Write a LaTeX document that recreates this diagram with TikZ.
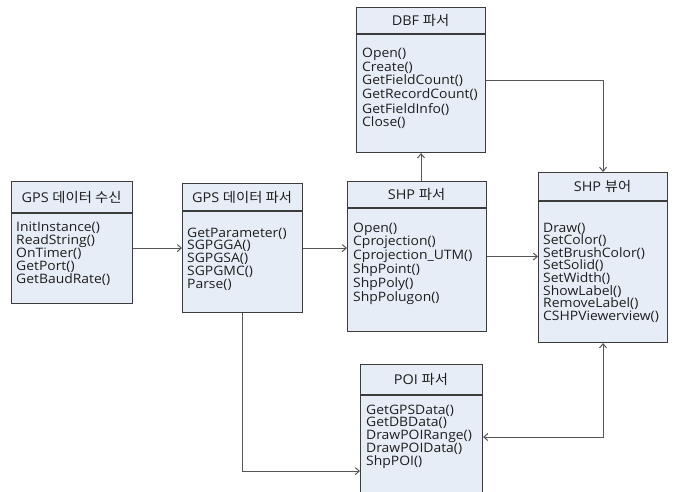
\documentclass[tikz,border=0pt]{standalone}
\usepackage{fontspec}
\setmainfont[FakeStretch=1.07]{Open Sans}
\newfontfamily\krfont[FakeStretch=1.06]{Noto Sans CJK KR}
\usetikzlibrary{arrows.meta}
\definecolor{boxfill}{RGB}{231,237,247}
\definecolor{boxline}{RGB}{60,60,60}
\definecolor{conn}{RGB}{85,85,85}
\definecolor{txtc}{RGB}{30,30,30}
\begin{document}
\begin{tikzpicture}[x=1pt,y=-1pt,
  box/.style={draw=boxline, fill=boxfill, line width=1.1pt, inner sep=0pt, anchor=north west},
  sep/.style={draw=boxline, line width=1.1pt},
  hdr/.style={font=\fontsize{13.5}{14}\selectfont, text=txtc, inner sep=0pt},
  body/.style={text=txtc, inner sep=0pt, anchor=base west, align=left},
  arr/.style={draw=conn, line width=1pt, -{Straight Barb[length=4pt,width=7pt]}},
  arrb/.style={draw=conn, line width=1pt, {Straight Barb[length=4pt,width=7pt]}-{Straight Barb[length=4pt,width=7pt]}},
]
\useasboundingbox (0,0) rectangle (677,492);
\clip (0,0) rectangle (677,492);

% GPS data receive
\node[box, minimum width=121pt, minimum height=122pt] (b1) at (11,181) {};
\draw[sep] (11,213) -- (132,213);
\node[hdr] (b1h) at (71.5,197) {GPS {\krfont 데이터 수신}};
\node[body, font=\fontsize{13}{13.2}\selectfont] (b1t) at (16,283.8) {InitInstance()\\ReadString()\\OnTimer()\\GetPort()\\GetBaudRate()};

% GPS data parser
\node[box, minimum width=120pt, minimum height=129pt] (b2) at (182,183) {};
\draw[sep] (182,211) -- (302,211);
\node[hdr] (b2h) at (242,197) {GPS {\krfont 데이터 파서}};
\node[body, font=\fontsize{13}{12.8}\selectfont] (b2t) at (187,288.2) {GetParameter()\\SGPGGA()\\SGPGSA()\\SGPGMC()\\Parse()};

% SHP parser
\node[box, minimum width=139pt, minimum height=150pt] (b3) at (347,181) {};
\draw[sep] (347,208) -- (486,208);
\node[hdr] (b3h) at (416.5,194.5) {SHP {\krfont 파서}};
\node[body, font=\fontsize{13}{13.8}\selectfont] (b3t) at (353,301) {Open()\\Cprojection()\\Cprojection\_UTM()\\ShpPoint()\\ShpPoly()\\ShpPolugon()};

% DBF parser
\node[box, minimum width=129pt, minimum height=145pt] (dbf) at (356,7) {};
\draw[sep] (356,34) -- (485,34);
\node[hdr] (dbfh) at (420.5,20.5) {DBF {\krfont 파서}};
\node[body, font=\fontsize{13}{14}\selectfont] (dbft) at (362,127) {Open()\\Create()\\GetFieldCount()\\GetRecordCount()\\GetFieldInfo()\\Close()};

% SHP viewer
\node[box, minimum width=129pt, minimum height=170pt] (v) at (538,172) {};
\draw[sep] (538,201) -- (667,201);
\node[hdr] (vh) at (602.5,186.5) {SHP {\krfont 뷰어}};
\node[body, font=\fontsize{13}{12.6}\selectfont] (vt) at (543,320.2) {Draw()\\SetColor()\\SetBrushColor()\\SetSolid()\\SetWidth()\\ShowLabel()\\RemoveLabel()\\CSHPViewerview()};

% POI parser
\node[box, minimum width=122pt, minimum height=156pt] (poi) at (360,364) {};
\draw[sep] (360,395) -- (482,395);
\node[hdr] (poih) at (421,379.5) {POI {\krfont 파서}};
\node[body, font=\fontsize{13}{12.9}\selectfont] (poit) at (366,465.6) {GetGPSData()\\GetDBData()\\DrawPOIRange()\\DrawPOIData()\\ShpPOI()};

% connectors
\draw[arr] (b1.east |- b2.west) -- (b2.west);
\draw[arr] (b2.east) -- (b2.east -| b3.west);
\draw[arr] (b3.north -| dbf.south) -- (dbf.south);
\draw[arr] (dbf.east) -| (v.north);
\draw[arr] (b3.east) -- (b3.east -| v.west);
\draw[arr] (b2.south) |- ([yshift=-28.5pt]poi.west);
\draw[arrb] (v.south) |- ([yshift=5.5pt]poi.east);
\end{tikzpicture}
\end{document}
